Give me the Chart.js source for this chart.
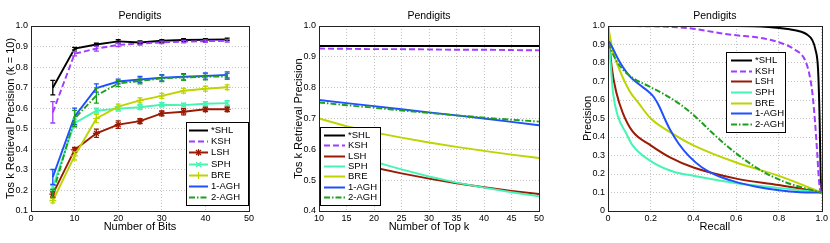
<!DOCTYPE html>
<html>
<head>
<meta charset="utf-8">
<script src="https://cdn.jsdelivr.net/npm/chart.js@4.4.0/dist/chart.umd.min.js"></script>
<style>
  body { margin: 0; background: #fff; width: 830px; height: 243px; overflow: hidden; position: relative; }
  canvas { position: absolute; top: 0; }
</style>
</head>
<body>
<canvas id="bitsChart" width="277" height="243" style="left:0"></canvas>
<canvas id="topkChart" width="277" height="243" style="left:277px"></canvas>
<canvas id="prChart" width="276" height="243" style="left:554px"></canvas>
<script>
// ---- data ----
const methods = ['*SHL', 'KSH', 'LSH', 'SPH', 'BRE', '1-AGH', '2-AGH'];

// precision vs number of bits (k = 10)
const bits = [5, 10, 15, 20, 25, 30, 35, 40, 45];
const shlBits  = [0.70, 0.89, 0.91, 0.925, 0.92, 0.928, 0.932, 0.933, 0.935];
const kshBits  = [0.58, 0.865, 0.89, 0.908, 0.915, 0.92, 0.924, 0.926, 0.928];
const lshBits  = [0.182, 0.397, 0.478, 0.52, 0.537, 0.575, 0.583, 0.595, 0.595];
const sphBits  = [0.217, 0.527, 0.588, 0.598, 0.605, 0.617, 0.615, 0.622, 0.625];
const breBits  = [0.15, 0.368, 0.55, 0.608, 0.638, 0.66, 0.685, 0.695, 0.702];
const agh1Bits = [0.265, 0.56, 0.698, 0.73, 0.74, 0.748, 0.753, 0.757, 0.762];
const agh2Bits = [0.185, 0.55, 0.662, 0.72, 0.733, 0.745, 0.75, 0.753, 0.755];
// error bar half-lengths
const shlErr  = [0.035, 0.006, 0.006, 0.008, 0.007, 0.006, 0.006, 0.005, 0.006];
const kshErr  = [0.052, 0.01, 0.012, 0.008, 0.008, 0.006, 0.006, 0.006, 0.006];
const lshErr  = [0.015, 0.012, 0.02, 0.018, 0.012, 0.012, 0.015, 0.012, 0.012];
const sphErr  = [0.015, 0.02, 0.012, 0.012, 0.012, 0.01, 0.01, 0.01, 0.012];
const breErr  = [0.01, 0.02, 0.02, 0.012, 0.012, 0.012, 0.012, 0.012, 0.012];
const agh1Err = [0.037, 0.04, 0.02, 0.012, 0.015, 0.015, 0.015, 0.015, 0.015];
const agh2Err = [0.02, 0.04, 0.037, 0.015, 0.015, 0.015, 0.015, 0.015, 0.015];

// precision vs top k
const topK = [10, 15, 20, 25, 30, 35, 40, 45, 50];
const shlTopK  = [0.935, 0.935, 0.935, 0.935, 0.935, 0.935, 0.935, 0.935, 0.935];
const kshTopK  = [0.927, 0.926, 0.925, 0.925, 0.924, 0.923, 0.923, 0.922, 0.921];
const lshTopK  = [0.598, 0.565, 0.541, 0.522, 0.505, 0.49, 0.477, 0.465, 0.455];
const sphTopK  = [0.655, 0.59, 0.56, 0.535, 0.512, 0.492, 0.476, 0.461, 0.448];
const breTopK  = [0.70, 0.675, 0.655, 0.638, 0.622, 0.608, 0.595, 0.583, 0.572];
const agh1TopK = [0.76, 0.75, 0.74, 0.73, 0.72, 0.71, 0.70, 0.689, 0.678];
const agh2TopK = [0.752, 0.743, 0.735, 0.726, 0.718, 0.71, 0.703, 0.696, 0.69];

// precision-recall curves
const shlRecall  = [0, 0.6, 0.75, 0.85, 0.9, 0.93, 0.955, 0.97, 0.983, 0.99, 0.995, 1];
const shlPrec    = [1, 1, 0.995, 0.982, 0.97, 0.955, 0.925, 0.875, 0.76, 0.5, 0.2, 0.1];
const kshRecall  = [0.13, 0.3, 0.4, 0.52, 0.6, 0.7, 0.8, 0.87, 0.92, 0.94, 0.956, 0.968, 0.979, 0.986, 0.993, 1];
const kshPrec    = [1, 0.995, 0.985, 0.962, 0.95, 0.938, 0.912, 0.875, 0.82, 0.75, 0.64, 0.49, 0.31, 0.18, 0.11, 0.1];
const lshRecall  = [0, 0.017, 0.04, 0.07, 0.115, 0.2, 0.29, 0.4, 0.6, 0.8, 1];
const lshPrec    = [1, 0.78, 0.636, 0.528, 0.43, 0.355, 0.29, 0.235, 0.175, 0.14, 0.1];
const sphRecall  = [0, 0.009, 0.024, 0.047, 0.085, 0.115, 0.2, 0.3, 0.4, 0.6, 0.8, 1];
const sphPrec    = [1, 0.85, 0.636, 0.51, 0.42, 0.355, 0.27, 0.215, 0.19, 0.15, 0.125, 0.1];
const breRecall  = [0, 0.024, 0.055, 0.1, 0.145, 0.2, 0.3, 0.4, 0.6, 0.8, 1];
const brePrec    = [1, 0.86, 0.76, 0.65, 0.58, 0.5, 0.42, 0.355, 0.262, 0.19, 0.1];
const agh1Recall = [0, 0.01, 0.055, 0.1, 0.145, 0.19, 0.215, 0.24, 0.265, 0.29, 0.33, 0.38, 0.44, 0.5, 0.59, 0.7, 0.8, 0.9, 1];
const agh1Prec   = [0.92, 0.905, 0.805, 0.73, 0.685, 0.645, 0.615, 0.565, 0.5, 0.44, 0.365, 0.295, 0.235, 0.197, 0.16, 0.13, 0.112, 0.102, 0.1];
const agh2Recall = [0, 0.01, 0.055, 0.115, 0.19, 0.267, 0.342, 0.418, 0.49, 0.59, 0.7, 0.82, 0.9, 1];
const agh2Prec   = [0.91, 0.88, 0.785, 0.72, 0.675, 0.628, 0.573, 0.5, 0.42, 0.32, 0.23, 0.16, 0.13, 0.1];

// ---- styles ----
const colors = ['#000000', '#a03cff', '#9a1a04', '#46f4b4', '#bcd400', '#1f4fff', '#1ca01c'];
const dashes = [[], [6, 3], [], [], [], [], [6, 2, 1.5, 2]];
const markers = [false, false, 'star', 'crossRot', 'cross', false, false];

Chart.defaults.font.family = "'Liberation Sans', Arial, sans-serif";
Chart.defaults.color = '#000';

const toXY = (xs, ys) => xs.map((x, i) => ({ x, y: ys[i] }));

function makeDataset(i, xs, ys, withMarkers) {
  const m = withMarkers && markers[i];
  return {
    label: methods[i],
    data: toXY(xs, ys),
    borderColor: colors[i],
    backgroundColor: colors[i],
    borderWidth: 1.9,
    borderDash: dashes[i],
    pointStyle: m || 'circle',
    pointRadius: m ? 3.5 : 0,
    pointBorderWidth: 1.2,
    tension: 0,
    order: 7 - i
  };
}

// ---- plugins ----
const errorBars = {
  id: 'errorBars',
  afterDatasetsDraw(chart) {
    const { ctx, scales: { x, y } } = chart;
    chart.data.datasets.forEach(ds => {
      if (!ds.errors) return;
      ctx.save();
      ctx.strokeStyle = ds.borderColor;
      ctx.lineWidth = 1.3;
      ds.data.forEach((p, i) => {
        const e = ds.errors[i];
        const px = x.getPixelForValue(p.x);
        const top = y.getPixelForValue(p.y + e);
        const bot = y.getPixelForValue(p.y - e);
        ctx.beginPath();
        ctx.moveTo(px, top); ctx.lineTo(px, bot);
        ctx.moveTo(px - 2.5, top); ctx.lineTo(px + 2.5, top);
        ctx.moveTo(px - 2.5, bot); ctx.lineTo(px + 2.5, bot);
        ctx.stroke();
      });
      ctx.restore();
    });
  }
};

const frame = {
  id: 'frame',
  afterDatasetsDraw(chart) {
    const { ctx, chartArea: a } = chart;
    ctx.save();
    ctx.strokeStyle = '#222';
    ctx.lineWidth = 1;
    ctx.strokeRect(Math.round(a.left) + 0.5, Math.round(a.top) + 0.5,
      Math.round(a.right - a.left), Math.round(a.bottom - a.top));
    ctx.restore();
  }
};

const boxLegend = {
  id: 'boxLegend',
  afterDraw(chart, args, o) {
    const { ctx } = chart;
    const sets = chart.data.datasets;
    const step = (o.h - 16) / (sets.length - 1);
    ctx.save();
    ctx.fillStyle = '#fff';
    ctx.fillRect(o.x, o.y, o.w, o.h);
    ctx.strokeStyle = '#000';
    ctx.lineWidth = 1;
    ctx.strokeRect(o.x + 0.5, o.y + 0.5, o.w, o.h);
    ctx.font = "9.5px 'Liberation Sans', Arial, sans-serif";
    ctx.textBaseline = 'middle';
    sets.forEach((ds, i) => {
      const cy = Math.round(o.y + 8 + i * step) + 0.5;
      ctx.strokeStyle = ds.borderColor;
      ctx.fillStyle = ds.borderColor;
      ctx.lineWidth = 2;
      ctx.setLineDash(ds.borderDash || []);
      ctx.beginPath();
      ctx.moveTo(o.x + o.s0, cy);
      ctx.lineTo(o.x + o.s1, cy);
      ctx.stroke();
      ctx.setLineDash([]);
      if (ds.pointRadius > 0) {
        ctx.lineWidth = 1.2;
        Chart.helpers.drawPoint(ctx, { pointStyle: ds.pointStyle, radius: ds.pointRadius, borderWidth: 1.2 },
          o.x + (o.s0 + o.s1) / 2, cy);
      }
      ctx.fillStyle = '#000';
      ctx.fillText(ds.label, o.x + o.tx, cy);
    });
    ctx.restore();
  }
};

function axes(xMin, xMax, xStep, yMin, yMax, yStep, xTitle, yTitle) {
  const grid = { color: '#c4c4c4', drawTicks: false };
  const border = { display: false, dash: [1, 2] };
  return {
    x: {
      type: 'linear', min: xMin, max: xMax,
      ticks: { stepSize: xStep, padding: 2, font: { size: 9 }, maxRotation: 0 },
      grid, border,
      title: { display: true, text: xTitle, font: { size: 11 }, padding: 0 },
      afterFit: s => { s.height = 23; }
    },
    y: {
      min: yMin, max: yMax,
      ticks: { stepSize: yStep, padding: 3, font: { size: 9 } },
      grid, border,
      title: { display: true, text: yTitle, font: { size: 11 }, padding: 0 },
      afterFit: s => { s.width = 27; }
    }
  };
}

function baseOptions(pad, scales, legendBox) {
  return {
    responsive: false,
    animation: false,
    devicePixelRatio: 1,
    layout: { padding: pad },
    scales,
    plugins: {
      legend: { display: false },
      tooltip: { enabled: false },
      title: {
        display: true, text: 'Pendigits', fullSize: false,
        font: { size: 10.5, weight: 'normal' }, color: '#000',
        padding: { top: 10, bottom: 3.4 }
      },
      boxLegend: legendBox
    }
  };
}

// ---- chart 1: number of bits ----
const bitsValues = [shlBits, kshBits, lshBits, sphBits, breBits, agh1Bits, agh2Bits];
const bitsErrors = [shlErr, kshErr, lshErr, sphErr, breErr, agh1Err, agh2Err];
new Chart(document.getElementById('bitsChart'), {
  type: 'line',
  data: {
    datasets: bitsValues.map((v, i) => Object.assign(makeDataset(i, bits, v, true), { errors: bitsErrors[i] }))
  },
  options: baseOptions({ left: 4, right: 28, top: 0, bottom: 9 },
    axes(0, 50, 10, 0.1, 1, 0.1, 'Number of Bits', 'Tos k Retrieval Precision (k = 10)'),
    { x: 186, y: 122, w: 62, h: 83, s0: 3, s1: 22, tx: 25 }),
  plugins: [errorBars, frame, boxLegend]
});

// ---- chart 2: top k ----
const topKValues = [shlTopK, kshTopK, lshTopK, sphTopK, breTopK, agh1TopK, agh2TopK];
new Chart(document.getElementById('topkChart'), {
  type: 'line',
  data: { datasets: topKValues.map((v, i) => makeDataset(i, topK, v, false)) },
  options: baseOptions({ left: 15, right: 15, top: 0, bottom: 9 },
    axes(10, 50, 5, 0.4, 1, 0.1, 'Number of Top k', 'Tos k Retrieval Precision'),
    { x: 43, y: 127, w: 60, h: 78, s0: 4, s1: 25, tx: 28 }),
  plugins: [frame, boxLegend]
});

// ---- chart 3: precision-recall ----
const prRecalls = [shlRecall, kshRecall, lshRecall, sphRecall, breRecall, agh1Recall, agh2Recall];
const prPrecs = [shlPrec, kshPrec, lshPrec, sphPrec, brePrec, agh1Prec, agh2Prec];
new Chart(document.getElementById('prChart'), {
  type: 'line',
  data: {
    datasets: prRecalls.map((r, i) => Object.assign(makeDataset(i, r, prPrecs[i], false), {
      borderWidth: 2, cubicInterpolationMode: 'monotone'
    }))
  },
  options: baseOptions({ left: 27, right: 2, top: 0, bottom: 9 },
    axes(0, 1, 0.2, 0, 1, 0.1, 'Recall', 'Precision'),
    { x: 172, y: 52, w: 59, h: 80, s0: 5, s1: 26, tx: 29 }),
  plugins: [frame, boxLegend]
});
</script>
</body>
</html>
